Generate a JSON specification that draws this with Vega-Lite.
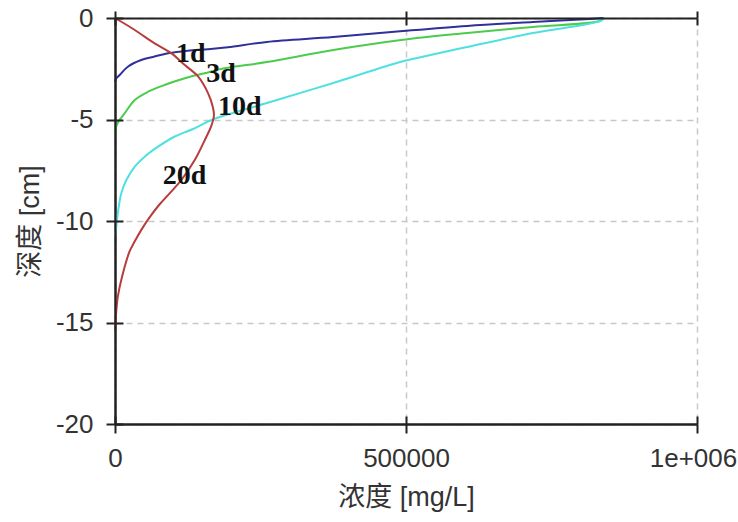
{
  "$schema": "https://vega.github.io/schema/vega-lite/v6.json",
  "width": 582,
  "height": 406,
  "autosize": "none",
  "padding": {"left": 115, "top": 18, "right": 41, "bottom": 98},
  "background": "white",
  "config": {"view": {"stroke": null}},
  "datasets": {
    "curves": [
      {"s": "1d", "c": 840000, "d": 0},
      {"s": "1d", "c": 816000, "d": -0.05},
      {"s": "1d", "c": 718000, "d": -0.2},
      {"s": "1d", "c": 605000, "d": -0.39},
      {"s": "1d", "c": 495000, "d": -0.64},
      {"s": "1d", "c": 375000, "d": -0.94},
      {"s": "1d", "c": 261000, "d": -1.18},
      {"s": "1d", "c": 194000, "d": -1.44},
      {"s": "1d", "c": 160000, "d": -1.54},
      {"s": "1d", "c": 125000, "d": -1.61},
      {"s": "1d", "c": 91000, "d": -1.74},
      {"s": "1d", "c": 68000, "d": -1.9},
      {"s": "1d", "c": 45000, "d": -2.07},
      {"s": "1d", "c": 22000, "d": -2.4},
      {"s": "1d", "c": 8000, "d": -2.81},
      {"s": "1d", "c": 1500, "d": -3.0},
      {"s": "1d", "c": 0, "d": -3.15},
      {"s": "3d", "c": 840000, "d": 0},
      {"s": "3d", "c": 833000, "d": -0.15},
      {"s": "3d", "c": 718000, "d": -0.44},
      {"s": "3d", "c": 605000, "d": -0.74},
      {"s": "3d", "c": 519000, "d": -0.99},
      {"s": "3d", "c": 375000, "d": -1.58},
      {"s": "3d", "c": 261000, "d": -2.17},
      {"s": "3d", "c": 188000, "d": -2.48},
      {"s": "3d", "c": 154000, "d": -2.72},
      {"s": "3d", "c": 120000, "d": -2.97},
      {"s": "3d", "c": 85000, "d": -3.3},
      {"s": "3d", "c": 57000, "d": -3.63},
      {"s": "3d", "c": 34000, "d": -4.04},
      {"s": "3d", "c": 16500, "d": -4.7},
      {"s": "3d", "c": 6000, "d": -5.1},
      {"s": "3d", "c": 1500, "d": -5.4},
      {"s": "3d", "c": 0, "d": -5.67},
      {"s": "10d", "c": 840000, "d": 0},
      {"s": "10d", "c": 833000, "d": -0.15},
      {"s": "10d", "c": 718000, "d": -0.74},
      {"s": "10d", "c": 605000, "d": -1.43},
      {"s": "10d", "c": 519000, "d": -1.97},
      {"s": "10d", "c": 490000, "d": -2.17},
      {"s": "10d", "c": 375000, "d": -3.2},
      {"s": "10d", "c": 261000, "d": -4.19},
      {"s": "10d", "c": 168000, "d": -5.0},
      {"s": "10d", "c": 133000, "d": -5.48},
      {"s": "10d", "c": 102000, "d": -5.85},
      {"s": "10d", "c": 74000, "d": -6.34},
      {"s": "10d", "c": 51000, "d": -6.83},
      {"s": "10d", "c": 34000, "d": -7.32},
      {"s": "10d", "c": 19500, "d": -7.98},
      {"s": "10d", "c": 10800, "d": -8.63},
      {"s": "10d", "c": 6400, "d": -9.3},
      {"s": "10d", "c": 3400, "d": -9.95},
      {"s": "10d", "c": 1700, "d": -10.4},
      {"s": "10d", "c": 0, "d": -10.7},
      {"s": "20d", "c": 0, "d": 0},
      {"s": "20d", "c": 34000, "d": -0.59},
      {"s": "20d", "c": 68000, "d": -1.25},
      {"s": "20d", "c": 97000, "d": -1.74},
      {"s": "20d", "c": 120000, "d": -2.32},
      {"s": "20d", "c": 143000, "d": -2.89},
      {"s": "20d", "c": 160000, "d": -3.71},
      {"s": "20d", "c": 168000, "d": -4.37},
      {"s": "20d", "c": 170000, "d": -4.8},
      {"s": "20d", "c": 165000, "d": -5.35},
      {"s": "20d", "c": 157000, "d": -5.85},
      {"s": "20d", "c": 137000, "d": -7.0},
      {"s": "20d", "c": 114000, "d": -7.98},
      {"s": "20d", "c": 95000, "d": -8.6},
      {"s": "20d", "c": 76000, "d": -9.2},
      {"s": "20d", "c": 60000, "d": -9.8},
      {"s": "20d", "c": 46000, "d": -10.4},
      {"s": "20d", "c": 34000, "d": -11.0},
      {"s": "20d", "c": 25000, "d": -11.5},
      {"s": "20d", "c": 12000, "d": -12.76},
      {"s": "20d", "c": 5000, "d": -13.7},
      {"s": "20d", "c": 2000, "d": -14.5},
      {"s": "20d", "c": 0, "d": -15.4}
    ],
    "labels": [
      {"t": "1d", "c": 105000, "d": -2.15},
      {"t": "3d", "c": 157000, "d": -3.14},
      {"t": "10d", "c": 177000, "d": -4.78},
      {"t": "20d", "c": 82000, "d": -8.18}
    ]
  },
  "resolve": {"axis": {"x": "independent", "y": "independent"}},
  "layer": [
    {
      "data": {"name": "curves"},
      "mark": {"type": "line", "strokeWidth": 2, "interpolate": "catmull-rom"},
      "encoding": {
        "x": {
          "field": "c", "type": "quantitative",
          "scale": {"domain": [0, 1000000], "nice": false, "zero": false},
          "axis": {
            "orient": "bottom", "values": [0, 500000, 1000000],
            "labelExpr": "datum.value == 1000000 ? '1e+006' : '' + datum.value",
            "labelOffset": {"condition": {"test": "datum.value == 1000000", "value": -4}, "value": 0},
            "title": "浓度 [mg/L]", "titleFont": "Liberation Sans, Noto Sans CJK SC", "titleFontSize": 27,
            "titleFontWeight": "normal", "titleColor": "#333333", "titlePadding": 13,
            "labelFont": "Liberation Sans", "labelFontSize": 26, "labelColor": "#333333", "labelPadding": 12,
            "labelFlush": false, "labelOverlap": false,
            "domainColor": "#222222", "domainWidth": 2, "tickColor": "#222222", "tickWidth": 2, "tickSize": 9,
            "grid": true, "gridColor": "#c8c8c8", "gridDash": [6, 5], "gridWidth": 1.5
          }
        },
        "y": {
          "field": "d", "type": "quantitative",
          "scale": {"domain": [-20, 0], "nice": false, "zero": false},
          "axis": {
            "orient": "left", "values": [0, -5, -10, -15, -20],
            "labelExpr": "'' + datum.value",
            "title": "深度 [cm]", "titleFont": "Liberation Sans, Noto Sans CJK SC", "titleFontSize": 27,
            "titleFontWeight": "normal", "titleColor": "#333333", "titlePadding": 11,
            "labelFont": "Liberation Sans", "labelFontSize": 26, "labelColor": "#333333", "labelPadding": 13,
            "labelFlush": false, "labelOverlap": false,
            "domainColor": "#222222", "domainWidth": 2, "tickColor": "#222222", "tickWidth": 2, "tickSize": 9,
            "grid": true, "gridColor": "#c8c8c8", "gridDash": [6, 5], "gridWidth": 1.5
          }
        },
        "color": {
          "field": "s", "type": "nominal",
          "scale": {"domain": ["1d", "3d", "10d", "20d"], "range": ["#30309a", "#4ccc4c", "#4fe0e0", "#b83c3c"]},
          "legend": null
        },
        "detail": {"field": "s"},
        "order": {"field": "d", "type": "quantitative"}
      }
    },
    {
      "data": {"name": "labels"},
      "mark": {"type": "text", "font": "Liberation Serif", "fontWeight": "bold", "fontSize": 28, "align": "left", "baseline": "alphabetic", "color": "#111111"},
      "encoding": {
        "x": {"field": "c", "type": "quantitative",
          "axis": {"orient": "bottom", "values": [0, 500000, 1000000], "labels": false, "title": null, "grid": false,
            "domainColor": "#222222", "domainWidth": 2, "tickColor": "#222222", "tickWidth": 2, "tickSize": -8, "zindex": 1}},
        "y": {"field": "d", "type": "quantitative",
          "axis": {"orient": "left", "values": [0, -5, -10, -15, -20], "labels": false, "title": null, "grid": false,
            "domainColor": "#222222", "domainWidth": 2, "tickColor": "#222222", "tickWidth": 2, "tickSize": -8, "zindex": 1}},
        "text": {"field": "t"}
      }
    },
    {
      "data": {"name": "labels"},
      "mark": {"type": "point", "opacity": 0},
      "encoding": {
        "x": {"field": "c", "type": "quantitative",
          "axis": {"orient": "top", "values": [0, 500000, 1000000], "labels": false, "title": null, "grid": false,
            "domainColor": "#222222", "domainWidth": 2, "tickColor": "#222222", "tickWidth": 2, "tickSize": 7, "zindex": 1}},
        "y": {"field": "d", "type": "quantitative", "axis": null}
      }
    },
    {
      "data": {"name": "labels"},
      "mark": {"type": "point", "opacity": 0},
      "encoding": {
        "x": {"field": "c", "type": "quantitative",
          "axis": {"orient": "top", "values": [0, 500000, 1000000], "labels": false, "title": null, "grid": false,
            "domain": false, "tickColor": "#222222", "tickWidth": 2, "tickSize": -7, "zindex": 1}},
        "y": {"field": "d", "type": "quantitative", "axis": null}
      }
    }
  ]
}
